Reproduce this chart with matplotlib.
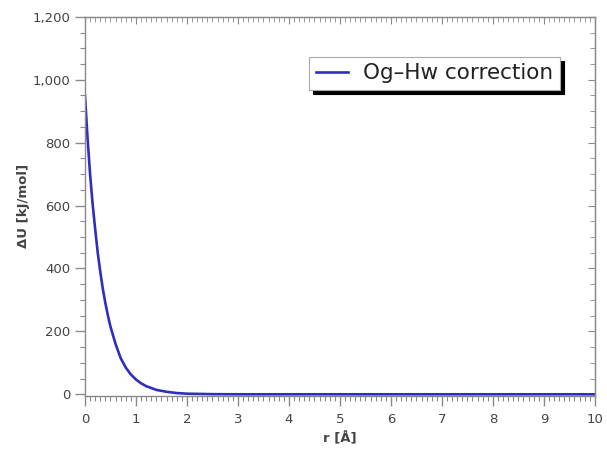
import numpy as np
import matplotlib.pyplot as plt
from matplotlib.ticker import MultipleLocator, FuncFormatter

# Og-Hw correction
r = [0.0, 0.05, 0.1, 0.15, 0.2, 0.25, 0.3, 0.35, 0.4, 0.45, 0.5, 0.6, 0.7, 0.8,
     0.9, 1.0, 1.1, 1.2, 1.4, 1.6, 1.8, 2.0, 2.5, 3.0, 4.0, 5.0, 6.0, 7.0, 8.0, 9.0, 10.0]
dU = [950, 815, 700, 605, 525, 450, 390, 335, 290, 250, 215, 160, 115, 85,
      63, 47, 35, 26, 14, 8, 4, 2, 0.5, 0, 0, 0, 0, 0, 0, 0, 0]
label = 'Og\u2013Hw correction'

grey = '#8a8a8a'
txt = '#444444'

fig = plt.figure(figsize=(6.07, 4.54), dpi=100)
ax = fig.add_axes([0.14, 0.128, 0.840, 0.835])
ax.plot(r, dU, color='#2e2ebf', lw=1.9, label=label)

ax.set_xlim(0, 10)
ax.set_ylim(-5, 1200)
ax.xaxis.set_major_locator(MultipleLocator(1))
ax.xaxis.set_minor_locator(MultipleLocator(0.1))
ax.yaxis.set_major_locator(MultipleLocator(200))
ax.yaxis.set_minor_locator(MultipleLocator(50))
ax.yaxis.set_major_formatter(FuncFormatter(lambda v, p: '{:,.0f}'.format(v)))

for s in ax.spines.values():
    s.set_color(grey)
    s.set_linewidth(1.0)
ax.tick_params(which='both', direction='out', color=grey, labelcolor=txt, labelsize=9.5)
ax.tick_params(which='major', length=7, width=1)
ax.tick_params(which='minor', length=3.5, width=0.8)
ax.tick_params(axis='x', which='major', pad=5)
ax.tick_params(axis='y', which='major', pad=3.5)

top = ax.secondary_xaxis('top')
top.xaxis.set_major_locator(MultipleLocator(1))
top.xaxis.set_minor_locator(MultipleLocator(0.1))
top.tick_params(which='both', direction='in', color=grey, labeltop=False)
top.tick_params(which='major', length=5)
top.tick_params(which='minor', length=3.5)
top.spines['top'].set_color(grey)

right = ax.secondary_yaxis('right')
right.yaxis.set_major_locator(MultipleLocator(200))
right.yaxis.set_minor_locator(MultipleLocator(50))
right.tick_params(which='both', direction='in', color=grey, labelright=False)
right.tick_params(which='major', length=5)
right.tick_params(which='minor', length=3.5)
right.spines['right'].set_color(grey)

ax.set_xlabel('r [Å]', fontsize=9.5, fontweight='bold', color=txt, labelpad=4)
ax.set_ylabel('ΔU [kJ/mol]', fontsize=9.5, fontweight='bold', color=txt, labelpad=2)

leg = ax.legend(loc='upper right', bbox_to_anchor=(0.931, 0.894), borderaxespad=0,
                fontsize=15.5, fancybox=False, handlelength=1.5, handletextpad=0.7,
                borderpad=0.3,
                shadow={'ox': 3, 'oy': -3, 'facecolor': 'black', 'edgecolor': 'black', 'alpha': 1})
leg.get_frame().set_edgecolor('#aaaaaa')
leg.get_frame().set_linewidth(0.8)
leg.get_frame().set_alpha(1)
for t in leg.get_texts():
    t.set_color('#222222')

fig.savefig('out.png', dpi=100)
